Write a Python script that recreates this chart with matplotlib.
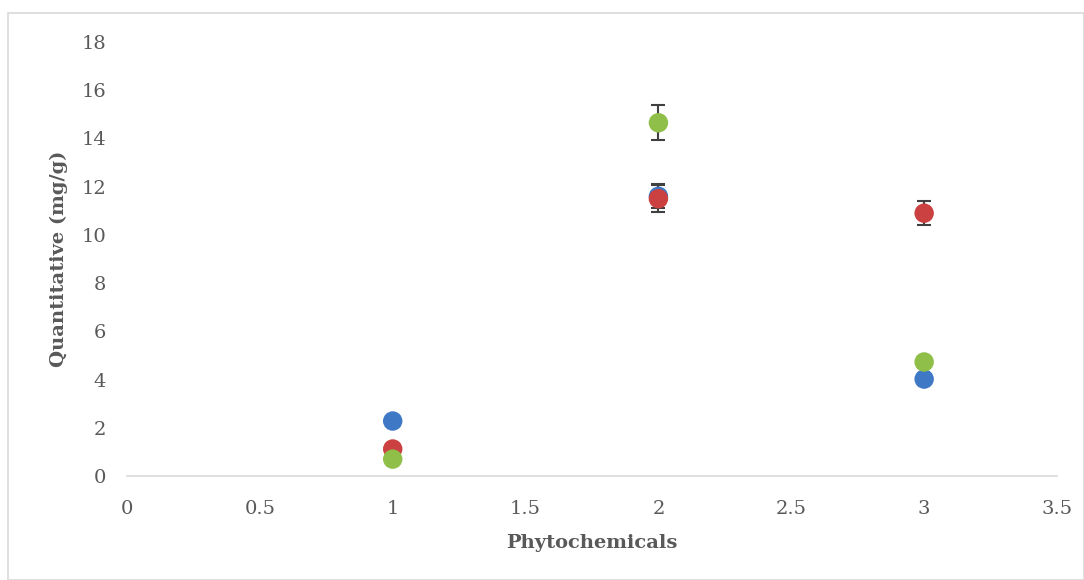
import matplotlib
matplotlib.use("Agg")
import matplotlib.pyplot as plt
import matplotlib.patheffects as pe
from matplotlib.patches import Rectangle

# data
x_vals = [1, 2, 3]
blue_vals = [2.28, 11.6, 4.02]
blue_err = [0.1, 0.5, 0.1]
red_vals = [1.12, 11.5, 10.9]
red_err = [0.1, 0.55, 0.5]
green_vals = [0.7, 14.65, 4.73]
green_err = [0.1, 0.72, 0.1]

series = [
    (blue_vals, blue_err, "#3F78C4"),
    (red_vals, red_err, "#CB4040"),
    (green_vals, green_err, "#8FBF48"),
]

plt.rcParams["font.family"] = ["DejaVu Serif"]

fig = plt.figure(figsize=(10.84, 5.80), dpi=100)
ax = fig.add_axes([127 / 1084, 1 - 476 / 580, (1057 - 127) / 1084, (476 - 42) / 580])

# light frame round the chart area
fig.patches.append(Rectangle((8 / 1084, 0.0), 1076 / 1084, 1 - 13 / 580,
                             transform=fig.transFigure, fill=False,
                             edgecolor="#D9D9D9", linewidth=1.2))

for vals, err, color in series:
    ax.errorbar(x_vals, vals, yerr=err, fmt="none", ecolor="#404040",
                elinewidth=1.5, capsize=5, capthick=1.5, zorder=2)
    line, = ax.plot(x_vals, vals, "o", color=color, markersize=14,
                    markeredgewidth=0, zorder=3)
    line.set_path_effects([pe.SimpleLineShadow(offset=(1.5, -2), alpha=0.25), pe.Normal()])

ax.set_xlim(0, 3.5)
ax.set_ylim(0, 18)
ax.set_xticks([0, 0.5, 1, 1.5, 2, 2.5, 3, 3.5])
ax.set_xticklabels(["0", "0.5", "1", "1.5", "2", "2.5", "3", "3.5"])
ax.set_yticks(range(0, 19, 2))

for side in ["top", "right", "left"]:
    ax.spines[side].set_visible(False)
ax.spines["bottom"].set_color("#D9D9D9")
ax.spines["bottom"].set_linewidth(1.2)
ax.tick_params(length=0, labelsize=14, colors="#595959")
ax.tick_params(axis="x", pad=17)
ax.tick_params(axis="y", pad=15)

ax.set_xlabel("Phytochemicals", fontsize=14, fontweight="bold", color="#595959", labelpad=12)
ax.set_ylabel("Quantitative (mg/g)", fontsize=14, fontweight="bold", color="#595959", labelpad=10)

fig.savefig("out.png", dpi=100)
